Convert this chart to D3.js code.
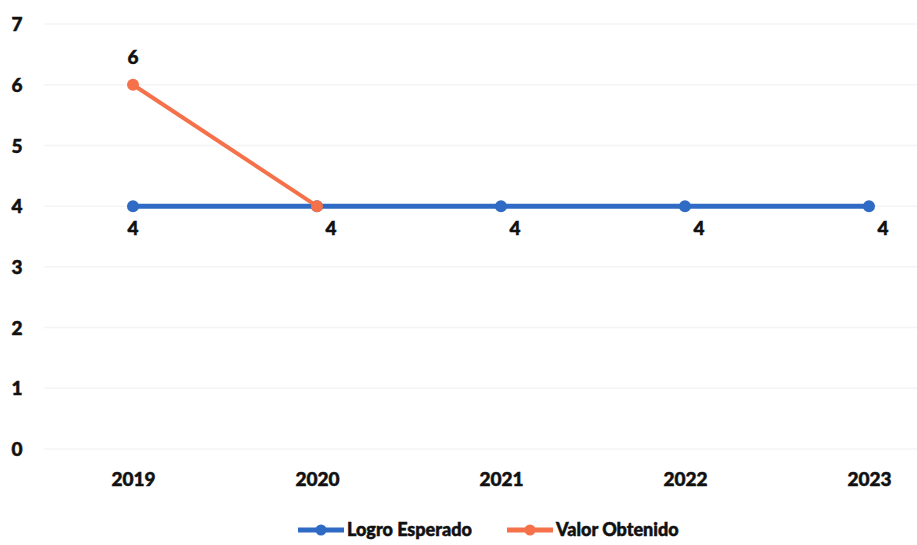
<!DOCTYPE html>
<html><head><meta charset="utf-8">
<script src="https://cdn.jsdelivr.net/npm/d3@7"></script>
<style>body{margin:0;background:#fff}svg text{font-family:Lato,"DejaVu Sans",sans-serif;font-weight:900;fill:#111;stroke:#111;stroke-width:0.5px}</style>
</head><body><svg id="c" width="917" height="545"></svg>
<script>
const years = ["2019","2020","2021","2022","2023"];
const logroEsperado = [4,4,4,4,4];
const valorObtenido = [6,4];
const yTicks = [0,1,2,3,4,5,6,7];
const seriesNames = ["Logro Esperado","Valor Obtenido"];

const svg = d3.select("#c");
const x = d3.scalePoint().domain(years).range([133,869]);
const y = d3.scaleLinear().domain([0,7]).range([449,24]);
const blue = "#2f6bc4", orange = "#f4714a";

// gridlines
svg.append("g").selectAll("line").data(yTicks).join("line")
  .attr("x1",44).attr("x2",917).attr("y1",d=>y(d)).attr("y2",d=>y(d))
  .attr("stroke","#f4f4f4").attr("stroke-width",1.5);

// y axis labels
const yAxis = d3.axisLeft(y).tickValues(yTicks).tickFormat(d3.format("d")).tickSize(0).tickPadding(0);
const gy = svg.append("g").attr("transform","translate(17,0)").call(yAxis);
gy.select(".domain").remove();
gy.selectAll("text").attr("font-size",19).attr("text-anchor","middle").attr("dy","0.35em");

// x axis labels
const xAxis = d3.axisBottom(x).tickSize(0).tickPadding(0);
const gx = svg.append("g").attr("transform","translate(0,472)").call(xAxis);
gx.select(".domain").remove();
gx.selectAll("text").attr("font-size",19).attr("dy","0.72em");

const line = d3.line().x((d,i)=>x(years[i])).y(d=>y(d));

function drawSeries(vals,color,w){
  svg.append("path").datum(vals).attr("d",line).attr("fill","none")
    .attr("stroke",color).attr("stroke-width",w).attr("stroke-linecap","round");
  svg.append("g").selectAll("circle").data(vals).join("circle")
    .attr("cx",(d,i)=>x(years[i])).attr("cy",d=>y(d)).attr("r",6).attr("fill",color);
}
drawSeries(logroEsperado,blue,5);
drawSeries(valorObtenido,orange,4);

// data labels
svg.append("g").selectAll("text").data(logroEsperado).join("text")
  .attr("x",(d,i)=>x(years[i])+ (i===0?0:14)).attr("y",d=>y(d)+29)
  .attr("text-anchor","middle").attr("font-size",19).text(d=>d);
svg.append("g").selectAll("text").data(valorObtenido.slice(0,1)).join("text")
  .attr("x",(d,i)=>x(years[i])).attr("y",d=>y(d)-21)
  .attr("text-anchor","middle").attr("font-size",19).text(d=>d);

// legend
const leg = svg.append("g").attr("transform","translate(0,530)");
const items = [{n:seriesNames[0],c:blue,x:298},{n:seriesNames[1],c:orange,x:507}];
items.forEach(it=>{
  leg.append("line").attr("x1",it.x).attr("x2",it.x+46).attr("y1",0).attr("y2",0)
    .attr("stroke",it.c).attr("stroke-width",5);
  leg.append("circle").attr("cx",it.x+23).attr("cy",0).attr("r",5.5).attr("fill",it.c);
  leg.append("text").attr("x",it.x+49).attr("y",0).attr("dy","0.35em")
    .attr("font-size",18).text(it.n);
});
</script></body></html>
